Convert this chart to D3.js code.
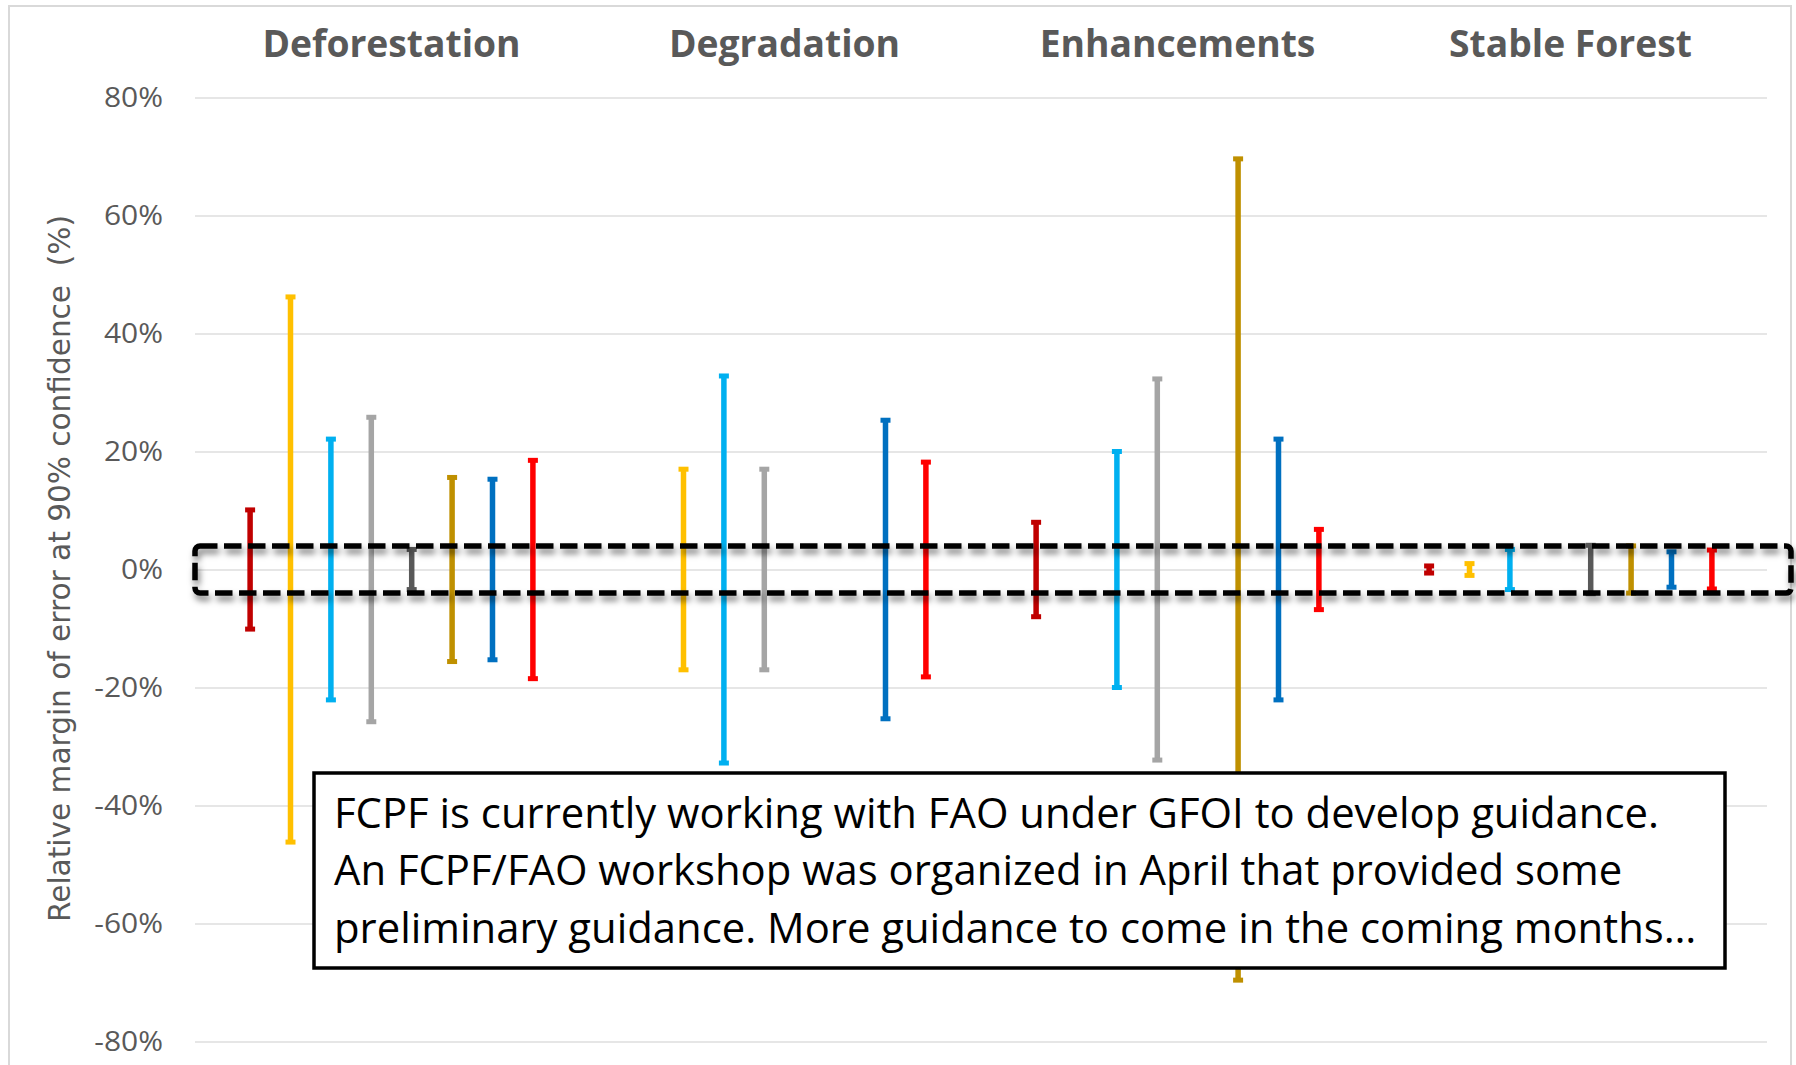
<!DOCTYPE html>
<html>
<head>
<meta charset="utf-8">
<script src="https://cdn.jsdelivr.net/npm/d3@7"></script>
<style>
  body { margin: 0; background: #fff; }
  svg { display: block; }
</style>
</head>
<body>
<script>
var w = 1796;
var h = 1065;

// categories across the top
var categories = ["Deforestation", "Degradation", "Enhancements", "Stable Forest"];
// 8 series per category (null = no bar), +/- relative margin of error in %
var deforestation = [10.1, 46.2, 22.1, 25.8, 3.4, 15.6, 15.3, 18.5];
var degradation   = [null, 17.0, 32.8, 17.0, null, null, 25.3, 18.2];
var enhancements  = [8.0, null, 20.0, 32.3, null, 69.6, 22.1, 6.8];
var stableForest  = [0.6, 1.0, 3.4, null, 4.1, 4.0, 3.0, 3.3];
var seriesColors  = ["#C00000", "#FFC000", "#00B0F0", "#A5A5A5", "#595959", "#BF9000", "#0070C0", "#FF0000"];
var yTicks = [-80, -60, -40, -20, 0, 20, 40, 60, 80];
var targetBand = [-4, 4];
var noteLines = [
  "FCPF is currently working with FAO under GFOI to develop guidance.",
  "An FCPF/FAO workshop was organized in April that provided some",
  "preliminary guidance. More guidance to come in the coming months\u2026"
];
var yTitle = "Relative margin of error at 90% confidence\u00a0 (%)";

var values = [deforestation, degradation, enhancements, stableForest];

// plot area (window.top is reserved, so no "top" here)
var plotL = 195, plotR = 1767, plotT = 97.5, plotB = 1041.5;

var x0 = d3.scaleBand()
    .domain(categories)
    .range([plotL, plotR]);
var x1 = d3.scaleBand()
    .domain(d3.range(seriesColors.length))
    .range([0, x0.bandwidth()])
    .paddingOuter(0.864);
var yScale = d3.scaleLinear()
    .domain([-80, 80])
    .range([plotB, plotT]);

var svg = d3.select("body")
    .append("svg")
    .attr("width", w)
    .attr("height", h);

var defs = svg.append("defs");
defs.append("filter")
    .attr("id", "shadow")
    .attr("x", "-5%").attr("y", "-50%")
    .attr("width", "110%").attr("height", "200%")
    .append("feDropShadow")
    .attr("dx", 2).attr("dy", 5)
    .attr("stdDeviation", 3)
    .attr("flood-color", "#000")
    .attr("flood-opacity", 0.5);

// outer frame
svg.append("rect")
    .attr("x", 9).attr("y", 6)
    .attr("width", 1782).attr("height", 1080)
    .style("fill", "none")
    .style("stroke", "#D9D9D9")
    .style("stroke-width", 2);

// gridlines
svg.append("g")
    .attr("transform", "translate(" + plotL + ",0)")
    .call(d3.axisLeft(yScale).tickValues(yTicks).tickSize(-(plotR - plotL)).tickFormat(""))
    .call(function(g) { g.select(".domain").remove(); })
    .selectAll("line")
    .style("stroke", "#DEDEDE")
    .style("stroke-width", 1.6);

// tick labels
var yAxis = svg.append("g")
    .attr("transform", "translate(" + plotL + ",0)")
    .call(d3.axisLeft(yScale).tickValues(yTicks).tickSize(0).tickPadding(32)
        .tickFormat(function(d) { return d + "%"; }));
yAxis.select(".domain").remove();
yAxis.selectAll("text")
    .style("font-family", "'Open Sans', sans-serif")
    .style("font-size", "28px")
    .style("fill", "#595959")
    .each(function() {
        var n = this.getComputedTextLength();
        d3.select(this).attr("textLength", n * 1.07).attr("lengthAdjust", "spacingAndGlyphs");
    });

// y axis title
svg.append("text")
    .attr("transform", "translate(70," + 568.5 + ") rotate(-90)")
    .attr("text-anchor", "middle")
    .attr("textLength", 707)
    .attr("lengthAdjust", "spacingAndGlyphs")
    .style("font-family", "'DejaVu Sans', sans-serif")
    .style("font-size", "30px")
    .style("fill", "#595959")
    .text(yTitle);

// category titles
svg.selectAll(".cat")
    .data(categories)
    .enter()
    .append("text")
    .attr("class", "cat")
    .attr("x", function(d) { return x0(d) + x0.bandwidth() / 2; })
    .attr("y", 57)
    .attr("text-anchor", "middle")
    .style("font-family", "'Open Sans', sans-serif")
    .style("font-weight", "bold")
    .style("font-size", "38px")
    .style("fill", "#595959")
    .text(function(d) { return d; })
    .each(function() {
        var n = this.getComputedTextLength();
        d3.select(this).attr("textLength", n * 0.98).attr("lengthAdjust", "spacingAndGlyphs");
    });

// error bars
var bars = [];
values.forEach(function(arr, ci) {
    arr.forEach(function(v, si) {
        if (v != null) bars.push({ cat: categories[ci], s: si, v: v });
    });
});

var cx = function(d) { return x0(d.cat) + x1(d.s) + x1.bandwidth() / 2; };
var eb = svg.append("g").selectAll("g")
    .data(bars)
    .enter()
    .append("g")
    .style("stroke", function(d) { return seriesColors[d.s]; });

eb.append("line")
    .attr("x1", cx).attr("x2", cx)
    .attr("y1", function(d) { return yScale(d.v); })
    .attr("y2", function(d) { return yScale(-d.v); })
    .style("stroke-width", 5.5);
eb.append("line")
    .attr("x1", function(d) { return cx(d) - 5; })
    .attr("x2", function(d) { return cx(d) + 5; })
    .attr("y1", function(d) { return yScale(d.v); })
    .attr("y2", function(d) { return yScale(d.v); })
    .style("stroke-width", 5);
eb.append("line")
    .attr("x1", function(d) { return cx(d) - 5; })
    .attr("x2", function(d) { return cx(d) + 5; })
    .attr("y1", function(d) { return yScale(-d.v); })
    .attr("y2", function(d) { return yScale(-d.v); })
    .style("stroke-width", 5);

// dashed +/-4% box
svg.append("rect")
    .attr("x", plotL)
    .attr("y", yScale(targetBand[1]))
    .attr("width", plotR - plotL + 24)
    .attr("height", yScale(targetBand[0]) - yScale(targetBand[1]))
    .attr("rx", 5)
    .style("fill", "none")
    .style("stroke", "#000")
    .style("stroke-width", 5.5)
    .style("stroke-dasharray", "17.5,6.5")
    .attr("filter", "url(#shadow)");

// note box
var note = svg.append("g");
note.append("rect")
    .attr("x", 314).attr("y", 773)
    .attr("width", 1411).attr("height", 195)
    .style("fill", "#fff")
    .style("stroke", "#000")
    .style("stroke-width", 3.5);

var noteText = note.selectAll("text")
    .data(noteLines)
    .enter()
    .append("text")
    .attr("x", 334)
    .attr("y", function(d, i) { return 828 + i * 57.3; })
    .style("font-family", "'Open Sans', sans-serif")
    .style("font-size", "42px")
    .style("fill", "#000")
    .text(function(d) { return d; });

var k = 1325 / noteText.node().getComputedTextLength();
noteText.each(function() {
    var n = this.getComputedTextLength();
    d3.select(this).attr("textLength", n * k).attr("lengthAdjust", "spacingAndGlyphs");
});
</script>
</body>
</html>
